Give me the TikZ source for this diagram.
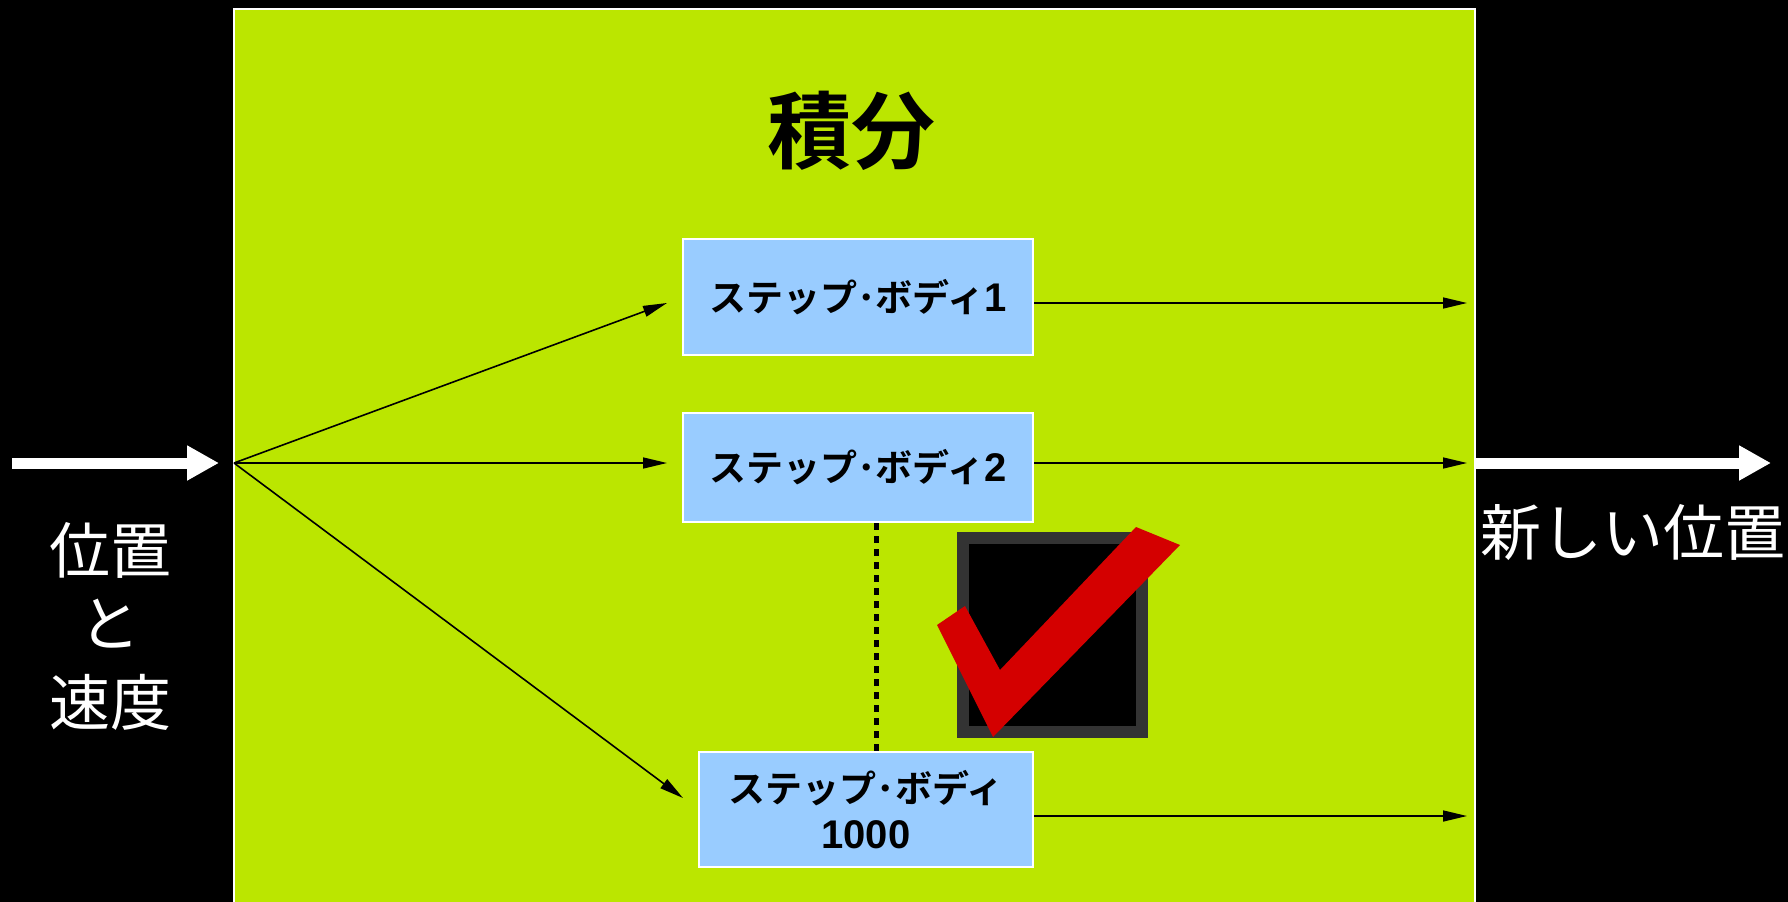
\documentclass[tikz,border=0pt]{standalone}
\usepackage{fontspec}
\newfontfamily\jp{Noto Sans CJK JP}[BoldFont={Noto Sans CJK JP Bold}]
\newfontfamily\arialb{Liberation Sans Bold}
\usetikzlibrary{arrows.meta}
\definecolor{bggreen}{HTML}{BBE600}
\definecolor{boxblue}{HTML}{99CCFF}
\definecolor{chkred}{HTML}{D40000}
\definecolor{chkgray}{HTML}{333333}
\tikzset{
  stepbox/.style={draw=white, line width=2pt, fill=boxblue, inner sep=0pt,
    font=\jp\bfseries\fontsize{37}{46}\selectfont, align=center},
  thin/.style={draw=black, line width=1.6pt, -{Triangle[length=24pt,width=11pt]}},
  bigarrow/.style={draw=white, line width=11pt, -{Triangle[length=32pt,width=33pt]}},
  wlabel/.style={text=white, font=\jp\fontsize{61}{70}\selectfont, inner sep=0pt},
}
\begin{document}
\begin{tikzpicture}[x=1pt,y=-1pt]
\fill[black] (0,0) rectangle (1788,902);
\useasboundingbox (0,0) rectangle (1788,902);
\fill[bggreen, draw=white, line width=1.5pt] (234,9) rectangle (1475,910);

\node[font=\jp\bfseries\fontsize{84}{90}\selectfont, inner sep=0pt] (title) at (851,131) {積分};

\node[stepbox, minimum width=350pt, minimum height=116pt] (b1) at (858,297) {ステップ･ボディ{\arialb\fontsize{40}{46}\selectfont 1}};
\node[stepbox, minimum width=350pt, minimum height=109pt] (b2) at (858,467.5) {ステップ･ボディ{\arialb\fontsize{40}{46}\selectfont 2}};
\node[stepbox, minimum width=334pt, minimum height=115pt] (b3) at (866,809.5) {ステップ･ボディ\\{\arialb\fontsize{40}{46}\selectfont 1000}};

\coordinate (src) at (234,463);
\coordinate (t1) at (667,303);
\coordinate (t2) at (667,463);
\coordinate (t3) at (683,798);
\coordinate (o1) at (1467,303);
\coordinate (o2) at (1467,463);
\coordinate (o3) at (1467,816);
\coordinate (inS) at (12,463);
\coordinate (inE) at (219,463);
\coordinate (outS) at (1476,463);
\coordinate (outE) at (1771,463);

\draw[thin] (src) -- (t1);
\draw[thin] (src) -- (t2);
\draw[thin] (src) -- (t3);
\draw[thin] ([yshift=-6pt]b1.east) -- (o1);
\draw[thin] ([yshift=4.5pt]b2.east) -- (o2);
\draw[thin] ([yshift=-6.5pt]b3.east) -- (o3);

\draw[black, line width=5pt, dash pattern=on 7pt off 6pt] ([xshift=18pt]b2.south) -- ([xshift=10pt]b3.north);

\draw[bigarrow] (inS) -- (inE);
\draw[bigarrow] (outS) -- (outE);

\node[wlabel] (l1) at (110,550) {位置};
\node[wlabel] (l2) at (110,624) {と};
\node[wlabel] (l3) at (110,702) {速度};
\node[wlabel] (r1) at (1633,533) {新しい位置};

% check mark
\filldraw[fill=black, draw=chkgray, line width=12pt] (963,538) rectangle (1142,732);
\fill[chkred] (937,625) -- (965,606) -- (1000,670) -- (1136,527) -- (1180,545) -- (993,737) -- cycle;
\end{tikzpicture}
\end{document}
